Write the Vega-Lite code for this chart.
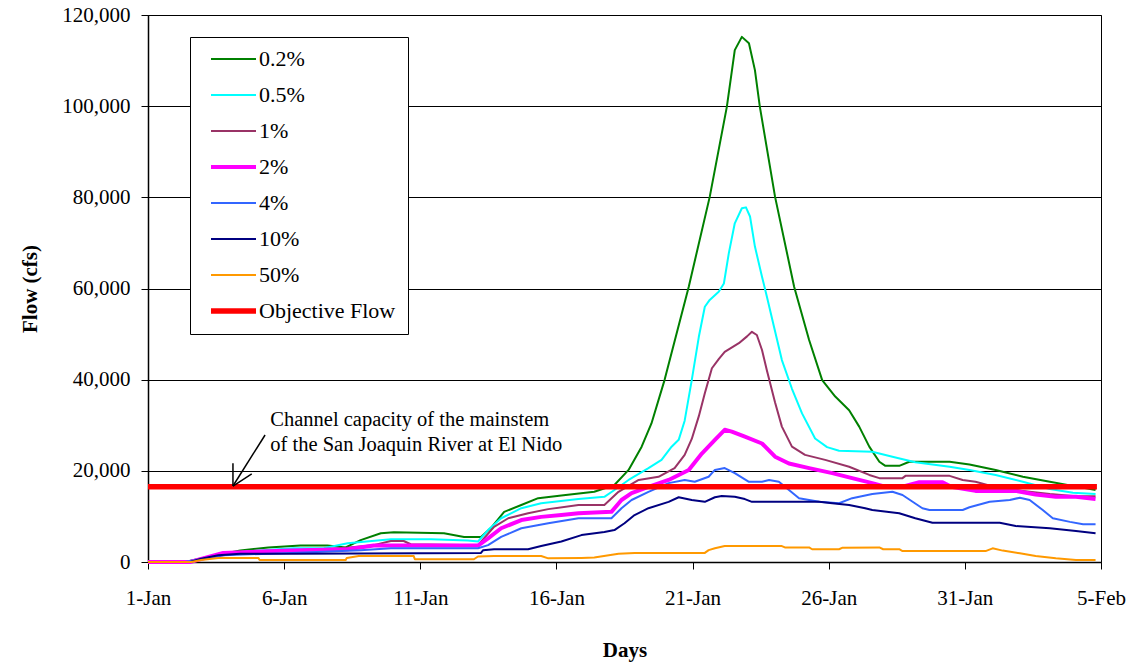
{
  "$schema": "https://vega.github.io/schema/vega-lite/v6.json",
  "width": 953,
  "height": 547,
  "autosize": {"type": "none"},
  "padding": {"left": 148, "top": 15, "right": 34, "bottom": 102},
  "background": "white",
  "config": {
    "font": "Liberation Serif",
    "view": {"stroke": "black", "strokeWidth": 1},
    "axis": {
      "labelFont": "Liberation Serif",
      "labelFontSize": 21,
      "labelColor": "black",
      "titleFont": "Liberation Serif",
      "titleFontSize": 21,
      "titleFontWeight": "bold",
      "titleColor": "black",
      "domainColor": "black",
      "domainWidth": 1.5,
      "tickColor": "black",
      "tickSize": 7,
      "tickWidth": 1
    }
  },
  "datasets": {
    "flows": [
      {"series": "0.2%", "day": 0, "flow": 0},
      {"series": "0.2%", "day": 1.36, "flow": 0},
      {"series": "0.2%", "day": 2.47, "flow": 1500},
      {"series": "0.2%", "day": 3.39, "flow": 2500},
      {"series": "0.2%", "day": 4.42, "flow": 3200},
      {"series": "0.2%", "day": 5.6, "flow": 3600},
      {"series": "0.2%", "day": 6.59, "flow": 3600},
      {"series": "0.2%", "day": 7.26, "flow": 3200},
      {"series": "0.2%", "day": 7.81, "flow": 4800},
      {"series": "0.2%", "day": 8.55, "flow": 6300},
      {"series": "0.2%", "day": 9.03, "flow": 6500},
      {"series": "0.2%", "day": 10.87, "flow": 6300},
      {"series": "0.2%", "day": 11.61, "flow": 5500},
      {"series": "0.2%", "day": 12.23, "flow": 5500},
      {"series": "0.2%", "day": 12.6, "flow": 7500},
      {"series": "0.2%", "day": 13.08, "flow": 11000},
      {"series": "0.2%", "day": 13.71, "flow": 12500},
      {"series": "0.2%", "day": 14.33, "flow": 14000},
      {"series": "0.2%", "day": 15.18, "flow": 14600},
      {"series": "0.2%", "day": 16.39, "flow": 15400},
      {"series": "0.2%", "day": 17.13, "flow": 16900},
      {"series": "0.2%", "day": 17.65, "flow": 20200},
      {"series": "0.2%", "day": 18.13, "flow": 25300},
      {"series": "0.2%", "day": 18.49, "flow": 30400},
      {"series": "0.2%", "day": 18.97, "flow": 39900},
      {"series": "0.2%", "day": 19.86, "flow": 60400},
      {"series": "0.2%", "day": 20.63, "flow": 80100},
      {"series": "0.2%", "day": 21.26, "flow": 99900},
      {"series": "0.2%", "day": 21.55, "flow": 112300},
      {"series": "0.2%", "day": 21.81, "flow": 115200},
      {"series": "0.2%", "day": 22.07, "flow": 113800},
      {"series": "0.2%", "day": 22.29, "flow": 107900},
      {"series": "0.2%", "day": 22.47, "flow": 99900},
      {"series": "0.2%", "day": 23.03, "flow": 80100},
      {"series": "0.2%", "day": 23.73, "flow": 60400},
      {"series": "0.2%", "day": 24.28, "flow": 48700},
      {"series": "0.2%", "day": 24.76, "flow": 39900},
      {"series": "0.2%", "day": 25.24, "flow": 36300},
      {"series": "0.2%", "day": 25.75, "flow": 33300},
      {"series": "0.2%", "day": 26.12, "flow": 29700},
      {"series": "0.2%", "day": 26.49, "flow": 25300},
      {"series": "0.2%", "day": 26.86, "flow": 22000},
      {"series": "0.2%", "day": 27.08, "flow": 21100},
      {"series": "0.2%", "day": 27.59, "flow": 21100},
      {"series": "0.2%", "day": 27.96, "flow": 22000},
      {"series": "0.2%", "day": 29.44, "flow": 22000},
      {"series": "0.2%", "day": 30.17, "flow": 21400},
      {"series": "0.2%", "day": 31.13, "flow": 20200},
      {"series": "0.2%", "day": 32.13, "flow": 18700},
      {"series": "0.2%", "day": 33.12, "flow": 17600},
      {"series": "0.2%", "day": 33.97, "flow": 16700},
      {"series": "0.2%", "day": 34.8, "flow": 15800},

      {"series": "0.5%", "day": 0, "flow": 0},
      {"series": "0.5%", "day": 1.36, "flow": 0},
      {"series": "0.5%", "day": 2.47, "flow": 1300},
      {"series": "0.5%", "day": 3.39, "flow": 2200},
      {"series": "0.5%", "day": 4.49, "flow": 2700},
      {"series": "0.5%", "day": 5.34, "flow": 3000},
      {"series": "0.5%", "day": 6.45, "flow": 3000},
      {"series": "0.5%", "day": 7.33, "flow": 4100},
      {"series": "0.5%", "day": 8.92, "flow": 5000},
      {"series": "0.5%", "day": 10.39, "flow": 5000},
      {"series": "0.5%", "day": 11.75, "flow": 4700},
      {"series": "0.5%", "day": 12.12, "flow": 4500},
      {"series": "0.5%", "day": 12.49, "flow": 7000},
      {"series": "0.5%", "day": 12.97, "flow": 9600},
      {"series": "0.5%", "day": 13.71, "flow": 11800},
      {"series": "0.5%", "day": 14.44, "flow": 12900},
      {"series": "0.5%", "day": 15.81, "flow": 13800},
      {"series": "0.5%", "day": 16.76, "flow": 14300},
      {"series": "0.5%", "day": 17.13, "flow": 15800},
      {"series": "0.5%", "day": 17.65, "flow": 18000},
      {"series": "0.5%", "day": 18.38, "flow": 20600},
      {"series": "0.5%", "day": 18.86, "flow": 22400},
      {"series": "0.5%", "day": 19.23, "flow": 25300},
      {"series": "0.5%", "day": 19.49, "flow": 26800},
      {"series": "0.5%", "day": 19.71, "flow": 31000},
      {"series": "0.5%", "day": 19.97, "flow": 39900},
      {"series": "0.5%", "day": 20.23, "flow": 49400},
      {"series": "0.5%", "day": 20.45, "flow": 56000},
      {"series": "0.5%", "day": 20.63, "flow": 57500},
      {"series": "0.5%", "day": 20.96, "flow": 59300},
      {"series": "0.5%", "day": 21.15, "flow": 61100},
      {"series": "0.5%", "day": 21.33, "flow": 67700},
      {"series": "0.5%", "day": 21.55, "flow": 74300},
      {"series": "0.5%", "day": 21.81, "flow": 77600},
      {"series": "0.5%", "day": 21.96, "flow": 77800},
      {"series": "0.5%", "day": 22.11, "flow": 75800},
      {"series": "0.5%", "day": 22.29, "flow": 69200},
      {"series": "0.5%", "day": 22.55, "flow": 62600},
      {"series": "0.5%", "day": 22.73, "flow": 58200},
      {"series": "0.5%", "day": 22.99, "flow": 51600},
      {"series": "0.5%", "day": 23.28, "flow": 44300},
      {"series": "0.5%", "day": 23.65, "flow": 38000},
      {"series": "0.5%", "day": 24.02, "flow": 32600},
      {"series": "0.5%", "day": 24.5, "flow": 27100},
      {"series": "0.5%", "day": 24.94, "flow": 25200},
      {"series": "0.5%", "day": 25.38, "flow": 24400},
      {"series": "0.5%", "day": 26.6, "flow": 24200},
      {"series": "0.5%", "day": 27.34, "flow": 23100},
      {"series": "0.5%", "day": 28.18, "flow": 21900},
      {"series": "0.5%", "day": 29.44, "flow": 20900},
      {"series": "0.5%", "day": 30.17, "flow": 20200},
      {"series": "0.5%", "day": 31.13, "flow": 19100},
      {"series": "0.5%", "day": 32.13, "flow": 17600},
      {"series": "0.5%", "day": 33.12, "flow": 16000},
      {"series": "0.5%", "day": 33.97, "flow": 15200},
      {"series": "0.5%", "day": 34.8, "flow": 14900},

      {"series": "1%", "day": 0, "flow": 0},
      {"series": "1%", "day": 1.36, "flow": 0},
      {"series": "1%", "day": 2.58, "flow": 1300},
      {"series": "1%", "day": 3.39, "flow": 2000},
      {"series": "1%", "day": 5.23, "flow": 2500},
      {"series": "1%", "day": 7.07, "flow": 3000},
      {"series": "1%", "day": 8.29, "flow": 3700},
      {"series": "1%", "day": 8.92, "flow": 4600},
      {"series": "1%", "day": 9.39, "flow": 4600},
      {"series": "1%", "day": 9.65, "flow": 3900},
      {"series": "1%", "day": 12.12, "flow": 3700},
      {"series": "1%", "day": 12.71, "flow": 7700},
      {"series": "1%", "day": 13.23, "flow": 9600},
      {"series": "1%", "day": 13.96, "flow": 10700},
      {"series": "1%", "day": 14.7, "flow": 11600},
      {"series": "1%", "day": 15.81, "flow": 12500},
      {"series": "1%", "day": 16.76, "flow": 12500},
      {"series": "1%", "day": 17.28, "flow": 15400},
      {"series": "1%", "day": 18.02, "flow": 18000},
      {"series": "1%", "day": 18.75, "flow": 18700},
      {"series": "1%", "day": 19.34, "flow": 20600},
      {"series": "1%", "day": 19.71, "flow": 23500},
      {"series": "1%", "day": 19.97, "flow": 27000},
      {"series": "1%", "day": 20.23, "flow": 32000},
      {"series": "1%", "day": 20.45, "flow": 37000},
      {"series": "1%", "day": 20.71, "flow": 42500},
      {"series": "1%", "day": 20.96, "flow": 44500},
      {"series": "1%", "day": 21.18, "flow": 46100},
      {"series": "1%", "day": 21.7, "flow": 48000},
      {"series": "1%", "day": 22.0, "flow": 49500},
      {"series": "1%", "day": 22.18, "flow": 50500},
      {"series": "1%", "day": 22.36, "flow": 49800},
      {"series": "1%", "day": 22.55, "flow": 46500},
      {"series": "1%", "day": 22.73, "flow": 42000},
      {"series": "1%", "day": 23.03, "flow": 35000},
      {"series": "1%", "day": 23.28, "flow": 29700},
      {"series": "1%", "day": 23.65, "flow": 25300},
      {"series": "1%", "day": 24.13, "flow": 23500},
      {"series": "1%", "day": 24.87, "flow": 22400},
      {"series": "1%", "day": 25.75, "flow": 20900},
      {"series": "1%", "day": 26.49, "flow": 19100},
      {"series": "1%", "day": 26.86, "flow": 18400},
      {"series": "1%", "day": 27.71, "flow": 18400},
      {"series": "1%", "day": 27.82, "flow": 18900},
      {"series": "1%", "day": 29.44, "flow": 18900},
      {"series": "1%", "day": 29.92, "flow": 18000},
      {"series": "1%", "day": 30.39, "flow": 17600},
      {"series": "1%", "day": 31.13, "flow": 16400},
      {"series": "1%", "day": 32.13, "flow": 15600},
      {"series": "1%", "day": 33.12, "flow": 14900},
      {"series": "1%", "day": 33.97, "flow": 14500},
      {"series": "1%", "day": 34.8, "flow": 14400},

      {"series": "2%", "day": 0, "flow": 0},
      {"series": "2%", "day": 1.55, "flow": 0},
      {"series": "2%", "day": 2.76, "flow": 2000},
      {"series": "2%", "day": 5.23, "flow": 2500},
      {"series": "2%", "day": 7.33, "flow": 2800},
      {"series": "2%", "day": 8.29, "flow": 3600},
      {"series": "2%", "day": 12.12, "flow": 3600},
      {"series": "2%", "day": 12.49, "flow": 5200},
      {"series": "2%", "day": 12.97, "flow": 7400},
      {"series": "2%", "day": 13.71, "flow": 9200},
      {"series": "2%", "day": 14.44, "flow": 9900},
      {"series": "2%", "day": 15.18, "flow": 10300},
      {"series": "2%", "day": 15.81, "flow": 10700},
      {"series": "2%", "day": 17.02, "flow": 11000},
      {"series": "2%", "day": 17.39, "flow": 13600},
      {"series": "2%", "day": 17.76, "flow": 15100},
      {"series": "2%", "day": 18.38, "flow": 16500},
      {"series": "2%", "day": 19.12, "flow": 18000},
      {"series": "2%", "day": 19.86, "flow": 20200},
      {"series": "2%", "day": 20.34, "flow": 23800},
      {"series": "2%", "day": 20.82, "flow": 26800},
      {"series": "2%", "day": 21.18, "flow": 29000},
      {"series": "2%", "day": 21.44, "flow": 28600},
      {"series": "2%", "day": 21.92, "flow": 27500},
      {"series": "2%", "day": 22.55, "flow": 26000},
      {"series": "2%", "day": 23.03, "flow": 23100},
      {"series": "2%", "day": 23.54, "flow": 21600},
      {"series": "2%", "day": 24.28, "flow": 20600},
      {"series": "2%", "day": 25.13, "flow": 19500},
      {"series": "2%", "day": 25.86, "flow": 18400},
      {"series": "2%", "day": 26.6, "flow": 17300},
      {"series": "2%", "day": 26.97, "flow": 16700},
      {"series": "2%", "day": 27.71, "flow": 16500},
      {"series": "2%", "day": 28.33, "flow": 17500},
      {"series": "2%", "day": 29.18, "flow": 17500},
      {"series": "2%", "day": 29.5, "flow": 16500},
      {"series": "2%", "day": 30.39, "flow": 15600},
      {"series": "2%", "day": 31.87, "flow": 15600},
      {"series": "2%", "day": 32.6, "flow": 14800},
      {"series": "2%", "day": 33.34, "flow": 14300},
      {"series": "2%", "day": 34.08, "flow": 14300},
      {"series": "2%", "day": 34.8, "flow": 13800},

      {"series": "4%", "day": 0, "flow": 0},
      {"series": "4%", "day": 1.36, "flow": 0},
      {"series": "4%", "day": 2.76, "flow": 1500},
      {"series": "4%", "day": 5.27, "flow": 2000},
      {"series": "4%", "day": 7.81, "flow": 2600},
      {"series": "4%", "day": 8.92, "flow": 3000},
      {"series": "4%", "day": 12.12, "flow": 3000},
      {"series": "4%", "day": 12.49, "flow": 3700},
      {"series": "4%", "day": 12.97, "flow": 5500},
      {"series": "4%", "day": 13.71, "flow": 7400},
      {"series": "4%", "day": 14.7, "flow": 8500},
      {"series": "4%", "day": 15.81, "flow": 9600},
      {"series": "4%", "day": 17.02, "flow": 9600},
      {"series": "4%", "day": 17.39, "flow": 11800},
      {"series": "4%", "day": 17.76, "flow": 13600},
      {"series": "4%", "day": 18.38, "flow": 15400},
      {"series": "4%", "day": 19.12, "flow": 17300},
      {"series": "4%", "day": 19.71, "flow": 18000},
      {"series": "4%", "day": 20.08, "flow": 17600},
      {"series": "4%", "day": 20.59, "flow": 18700},
      {"series": "4%", "day": 20.82, "flow": 20200},
      {"series": "4%", "day": 21.18, "flow": 20600},
      {"series": "4%", "day": 21.55, "flow": 19500},
      {"series": "4%", "day": 22.07, "flow": 17600},
      {"series": "4%", "day": 22.55, "flow": 17600},
      {"series": "4%", "day": 22.81, "flow": 18000},
      {"series": "4%", "day": 23.17, "flow": 17600},
      {"series": "4%", "day": 23.54, "flow": 15800},
      {"series": "4%", "day": 23.91, "flow": 14000},
      {"series": "4%", "day": 24.65, "flow": 13200},
      {"series": "4%", "day": 25.38, "flow": 12900},
      {"series": "4%", "day": 25.86, "flow": 14000},
      {"series": "4%", "day": 26.6, "flow": 14900},
      {"series": "4%", "day": 27.34, "flow": 15400},
      {"series": "4%", "day": 27.71, "flow": 14700},
      {"series": "4%", "day": 28.44, "flow": 11800},
      {"series": "4%", "day": 28.7, "flow": 11400},
      {"series": "4%", "day": 29.92, "flow": 11400},
      {"series": "4%", "day": 30.17, "flow": 12000},
      {"series": "4%", "day": 30.91, "flow": 13200},
      {"series": "4%", "day": 31.65, "flow": 13600},
      {"series": "4%", "day": 32.02, "flow": 14100},
      {"series": "4%", "day": 32.38, "flow": 13600},
      {"series": "4%", "day": 32.86, "flow": 11400},
      {"series": "4%", "day": 33.23, "flow": 9600},
      {"series": "4%", "day": 33.86, "flow": 8800},
      {"series": "4%", "day": 34.34, "flow": 8300},
      {"series": "4%", "day": 34.8, "flow": 8300},

      {"series": "10%", "day": 0, "flow": 0},
      {"series": "10%", "day": 1.55, "flow": 0},
      {"series": "10%", "day": 1.95, "flow": 700},
      {"series": "10%", "day": 2.58, "flow": 1500},
      {"series": "10%", "day": 3.39, "flow": 1800},
      {"series": "10%", "day": 5.42, "flow": 1800},
      {"series": "10%", "day": 12.23, "flow": 2000},
      {"series": "10%", "day": 12.31, "flow": 2600},
      {"series": "10%", "day": 12.71, "flow": 2800},
      {"series": "10%", "day": 13.96, "flow": 2800},
      {"series": "10%", "day": 14.44, "flow": 3500},
      {"series": "10%", "day": 15.18, "flow": 4500},
      {"series": "10%", "day": 15.92, "flow": 5900},
      {"series": "10%", "day": 16.76, "flow": 6600},
      {"series": "10%", "day": 17.13, "flow": 7000},
      {"series": "10%", "day": 17.5, "flow": 8500},
      {"series": "10%", "day": 17.87, "flow": 10300},
      {"series": "10%", "day": 18.38, "flow": 11800},
      {"series": "10%", "day": 19.12, "flow": 13200},
      {"series": "10%", "day": 19.49, "flow": 14200},
      {"series": "10%", "day": 19.97, "flow": 13600},
      {"series": "10%", "day": 20.45, "flow": 13200},
      {"series": "10%", "day": 20.82, "flow": 14200},
      {"series": "10%", "day": 21.07, "flow": 14500},
      {"series": "10%", "day": 21.55, "flow": 14300},
      {"series": "10%", "day": 21.92, "flow": 13800},
      {"series": "10%", "day": 22.18, "flow": 13200},
      {"series": "10%", "day": 24.65, "flow": 13200},
      {"series": "10%", "day": 25.13, "flow": 12900},
      {"series": "10%", "day": 25.75, "flow": 12500},
      {"series": "10%", "day": 26.34, "flow": 11800},
      {"series": "10%", "day": 26.6, "flow": 11400},
      {"series": "10%", "day": 27.59, "flow": 10700},
      {"series": "10%", "day": 28.18, "flow": 9600},
      {"series": "10%", "day": 28.81, "flow": 8600},
      {"series": "10%", "day": 31.28, "flow": 8600},
      {"series": "10%", "day": 31.87, "flow": 7900},
      {"series": "10%", "day": 33.12, "flow": 7400},
      {"series": "10%", "day": 34.08, "flow": 6800},
      {"series": "10%", "day": 34.8, "flow": 6300},

      {"series": "50%", "day": 0, "flow": 0},
      {"series": "50%", "day": 1.6, "flow": 0},
      {"series": "50%", "day": 1.95, "flow": 440},
      {"series": "50%", "day": 2.58, "flow": 900},
      {"series": "50%", "day": 4.05, "flow": 900},
      {"series": "50%", "day": 4.1, "flow": 440},
      {"series": "50%", "day": 7.26, "flow": 440},
      {"series": "50%", "day": 7.3, "flow": 900},
      {"series": "50%", "day": 7.74, "flow": 1300},
      {"series": "50%", "day": 9.76, "flow": 1300},
      {"series": "50%", "day": 9.8, "flow": 600},
      {"series": "50%", "day": 11.97, "flow": 600},
      {"series": "50%", "day": 12.12, "flow": 1200},
      {"series": "50%", "day": 12.71, "flow": 1300},
      {"series": "50%", "day": 14.44, "flow": 1300},
      {"series": "50%", "day": 14.7, "flow": 800},
      {"series": "50%", "day": 15.92, "flow": 900},
      {"series": "50%", "day": 16.39, "flow": 1000},
      {"series": "50%", "day": 17.28, "flow": 1800},
      {"series": "50%", "day": 17.87, "flow": 2000},
      {"series": "50%", "day": 20.45, "flow": 2000},
      {"series": "50%", "day": 20.59, "flow": 2600},
      {"series": "50%", "day": 20.82, "flow": 3000},
      {"series": "50%", "day": 21.18, "flow": 3500},
      {"series": "50%", "day": 23.28, "flow": 3500},
      {"series": "50%", "day": 23.39, "flow": 3200},
      {"series": "50%", "day": 24.28, "flow": 3200},
      {"series": "50%", "day": 24.39, "flow": 2800},
      {"series": "50%", "day": 25.38, "flow": 2800},
      {"series": "50%", "day": 25.49, "flow": 3100},
      {"series": "50%", "day": 26.86, "flow": 3200},
      {"series": "50%", "day": 27.0, "flow": 2800},
      {"series": "50%", "day": 27.59, "flow": 2800},
      {"series": "50%", "day": 27.71, "flow": 2400},
      {"series": "50%", "day": 30.76, "flow": 2400},
      {"series": "50%", "day": 31.02, "flow": 3000},
      {"series": "50%", "day": 31.39, "flow": 2500},
      {"series": "50%", "day": 32.02, "flow": 1900},
      {"series": "50%", "day": 32.6, "flow": 1300},
      {"series": "50%", "day": 33.34, "flow": 800},
      {"series": "50%", "day": 34.08, "flow": 450},
      {"series": "50%", "day": 34.8, "flow": 450},

      {"series": "Objective Flow", "day": 0, "flow": 16500},
      {"series": "Objective Flow", "day": 34.85, "flow": 16500}
    ],
    "arrow": [
      {"day": 4.3, "flow": 27860, "day2": 3.12, "flow2": 16670},
      {"day": 3.12, "flow": 21650, "day2": 3.12, "flow2": 16670},
      {"day": 3.81, "flow": 19310, "day2": 3.12, "flow2": 16670}
    ],
    "notes": [
      {"day": 4.49, "flow": 29840, "label": "Channel capacity of the mainstem"},
      {"day": 4.49, "flow": 24350, "label": "of the San Joaquin River at El Nido"}
    ]
  },
  "layer": [
    {
      "data": {"name": "flows"},
      "mark": {"type": "line", "interpolate": "linear", "strokeJoin": "round", "strokeCap": "butt"},
      "encoding": {
        "x": {
          "field": "day", "type": "quantitative", "title": "Days",
          "scale": {"domain": [0, 35], "nice": false, "zero": false},
          "axis": {
            "values": [0, 5, 10, 15, 20, 25, 30, 35],
            "labelExpr": "['1-Jan','6-Jan','11-Jan','16-Jan','21-Jan','26-Jan','31-Jan','5-Feb'][round(datum.value/5)]",
            "grid": false, "labelPadding": 18, "labelFlush": false,
            "titleX": 476.5, "titleY": 88, "titleBaseline": "middle", "titleAlign": "center"
          }
        },
        "y": {
          "field": "flow", "type": "quantitative", "title": "Flow (cfs)",
          "scale": {"domain": [0, 120000], "nice": false},
          "axis": {
            "values": [0, 20000, 40000, 60000, 80000, 100000, 120000],
            "labelExpr": "format(datum.value, ',')",
            "grid": true, "gridColor": "black", "gridOpacity": 1, "gridWidth": 1,
            "labelPadding": 11, "labelFlush": false,
            "titleX": -118, "titleY": 273.5, "titleAngle": 270, "titleBaseline": "middle", "titleAlign": "center"
          }
        },
        "color": {
          "field": "series", "type": "nominal",
          "scale": {
            "domain": ["0.2%", "0.5%", "1%", "2%", "4%", "10%", "50%", "Objective Flow"],
            "range": ["#008000", "#00FFFF", "#993366", "#FF00FF", "#3366FF", "#000080", "#FF9900", "#FF0000"]
          },
          "legend": {
            "orient": "none", "legendX": 42, "legendY": 22, "title": null,
            "symbolType": "stroke", "symbolSize": 2025, "labelFontSize": 22, "labelFont": "Liberation Serif",
            "labelColor": "black", "fillColor": "white", "strokeColor": "black", "padding": 12,
            "rowPadding": 14, "symbolOffset": 6, "labelOffset": 0, "clipHeight": 20
          }
        },
        "strokeWidth": {
          "field": "series", "type": "ordinal",
          "scale": {
            "type": "ordinal",
            "domain": ["0.2%", "0.5%", "1%", "2%", "4%", "10%", "50%", "Objective Flow"],
            "range": [2, 2, 2, 4, 2, 2, 2, 5.5]
          },
          "legend": {
            "orient": "none", "legendX": 42, "legendY": 22, "title": null,
            "symbolType": "stroke", "symbolSize": 2025, "labelFontSize": 22, "labelFont": "Liberation Serif",
            "labelColor": "black", "fillColor": "white", "strokeColor": "black", "padding": 12,
            "rowPadding": 14, "symbolOffset": 6, "labelOffset": 0, "clipHeight": 20
          }
        }
      }
    },
    {
      "data": {"name": "arrow"},
      "mark": {"type": "rule", "color": "black", "strokeWidth": 1.5},
      "encoding": {
        "x": {"field": "day", "type": "quantitative", "title": "Days"},
        "x2": {"field": "day2"},
        "y": {"field": "flow", "type": "quantitative", "title": "Flow (cfs)"},
        "y2": {"field": "flow2"}
      }
    },
    {
      "data": {"name": "notes"},
      "mark": {"type": "text", "align": "left", "baseline": "alphabetic", "fontSize": 20.5, "font": "Liberation Serif", "color": "black"},
      "encoding": {
        "x": {"field": "day", "type": "quantitative", "title": "Days"},
        "y": {"field": "flow", "type": "quantitative", "title": "Flow (cfs)"},
        "text": {"field": "label"}
      }
    }
  ]
}
